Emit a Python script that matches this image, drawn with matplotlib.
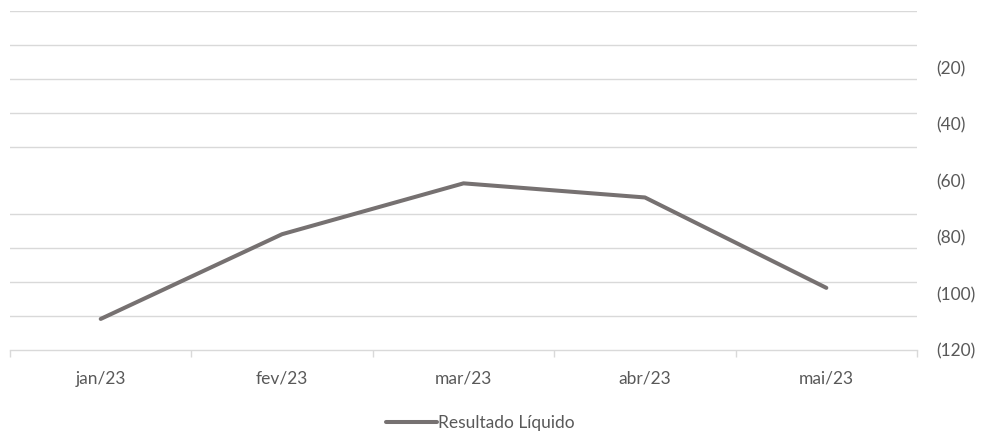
import numpy as np
import matplotlib.pyplot as plt
from matplotlib.ticker import FixedLocator, FuncFormatter

# Data
months = ["jan/23", "fev/23", "mar/23", "abr/23", "mai/23"]
resultado = [-109, -79, -61, -66, -98]
label_ticks = [-120, -100, -80, -60, -40, -20]
grid_ticks = list(np.linspace(-120, 0, 11))

plt.rcParams['font.family'] = ['Lato', 'DejaVu Sans']

fig = plt.figure(figsize=(9.81, 4.32), dpi=100)
ax = fig.add_axes([0.0102, 0.1898, 0.9246, 0.7847])

x = np.arange(len(months))
ax.plot(x, resultado, color='#767171', linewidth=2.9, solid_capstyle='round',
        label='Resultado Líquido')

ax.set_xlim(-0.5, len(months) - 0.5)
ax.set_ylim(-120, 0)

# y labels on the right, in accounting format
ax.yaxis.tick_right()
ax.yaxis.set_major_locator(FixedLocator(label_ticks))
ax.yaxis.set_major_formatter(FuncFormatter(lambda v, p: f"({abs(v):.0f})" if v < 0 else f"{v:.0f}"))
ax.yaxis.set_minor_locator(FixedLocator(grid_ticks))
ax.grid(which='minor', axis='y', color='#d9d9d9', linewidth=1.0)
ax.tick_params(axis='y', which='both', length=0, pad=14, labelsize=12.5, labelcolor='#595959')

# x categories with tick marks at boundaries
ax.set_xticks(x)
ax.set_xticklabels(months)
ax.set_xticks(np.arange(-0.5, len(months)), minor=True)
ax.tick_params(axis='x', which='major', length=0, pad=15, labelsize=12.5, labelcolor='#595959')
ax.tick_params(axis='x', which='minor', length=5, color='#d9d9d9', width=1.0)

for s in ['top', 'left', 'right']:
    ax.spines[s].set_visible(False)
ax.spines['bottom'].set_color('#d9d9d9')
ax.spines['bottom'].set_linewidth(1.0)

leg = fig.legend(loc='lower center', bbox_to_anchor=(0.49, -0.033), frameon=False,
                 handlelength=2.9, handletextpad=0.1, fontsize=12.5)
for t in leg.get_texts():
    t.set_color('#595959')

fig.savefig('out.png', dpi=100)
